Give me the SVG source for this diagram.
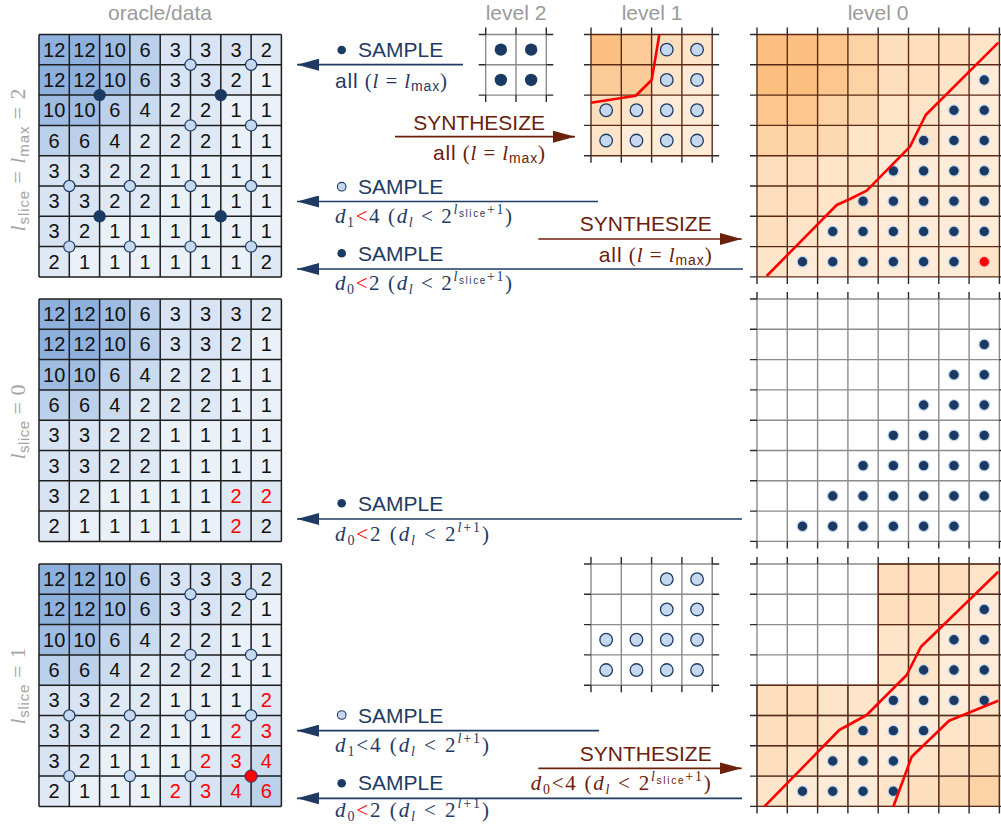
<svg xmlns="http://www.w3.org/2000/svg" xmlns:xlink="http://www.w3.org/1999/xlink" width="1001" height="829" viewBox="0 0 1001 829">
<style>
.b12{fill:#8db0dc}.b10{fill:#9ebbe1}.b6{fill:#bbd0ea}.b4{fill:#cbdbef}.b3{fill:#d8e4f3}.b2{fill:#dfe8f5}.b1{fill:#ebf1f9}
.o12{fill:#fbbf80}.o10{fill:#fcc68d}.o8{fill:#fccb97}.o6{fill:#fdd3a6}.o4{fill:#fdd9b2}.o3{fill:#fddfbe}.o2{fill:#fee4c8}.o1{fill:#feecd9}
.gk{fill:none;stroke:#1e1e1e;stroke-width:1.5}
.gb{fill:none;stroke:#5e2a14;stroke-width:1.4}
.gg{fill:none;stroke:#8c8c8c;stroke-width:1.4}
.tk{fill:none;stroke:#2a2a2a;stroke-width:1.4}
.n{font-family:"Liberation Sans",Arial,sans-serif;font-size:20px;fill:#111;text-anchor:middle}
.rd{fill:#ff0000}
.hd{font-family:"Liberation Sans",Arial,sans-serif;font-size:21px;fill:#9a9a9a;text-anchor:middle}
.sans{font-family:"Liberation Sans",Arial,sans-serif}
.ser{font-family:"Liberation Serif","Times New Roman",serif}
.it{font-style:italic}
.lab{font-family:"Liberation Sans",Arial,sans-serif;font-size:21px}
.nv{fill:#1f3b63}
.br{fill:#6b200c}
.vl{font-family:"Liberation Serif","Times New Roman",serif;font-size:22px;fill:#a3a3a3;text-anchor:middle}
.an{stroke:#1f3b63;stroke-width:1.7;fill:none}
.as{stroke:#6b200c;stroke-width:1.7;fill:none}
.red{fill:none;stroke:#ff0000;stroke-width:2.6;stroke-linejoin:round}
</style>
<defs>
<path id="g8" d="M0 0H242.4M0 30.3H242.4M0 60.6H242.4M0 90.9H242.4M0 121.2H242.4M0 151.5H242.4M0 181.8H242.4M0 212.1H242.4M0 242.4H242.4M0 0V242.4M30.3 0V242.4M60.6 0V242.4M90.9 0V242.4M121.2 0V242.4M151.5 0V242.4M181.8 0V242.4M212.1 0V242.4M242.4 0V242.4"/>
<path id="t8" d="M0 -7V0M30.3 -7V0M60.6 -7V0M90.9 -7V0M121.2 -7V0M151.5 -7V0M181.8 -7V0M212.1 -7V0M242.4 -7V0M0 242.4v7M30.3 242.4v7M60.6 242.4v7M90.9 242.4v7M121.2 242.4v7M151.5 242.4v7M181.8 242.4v7M212.1 242.4v7M242.4 242.4v7M-7 0H0M-7 30.3H0M-7 60.6H0M-7 90.9H0M-7 121.2H0M-7 151.5H0M-7 181.8H0M-7 212.1H0M-7 242.4H0M242.4 0h7M242.4 30.3h7M242.4 60.6h7M242.4 90.9h7M242.4 121.2h7M242.4 151.5h7M242.4 181.8h7M242.4 212.1h7M242.4 242.4h7"/>
<path id="g4" d="M0 0H121.2M0 30.3H121.2M0 60.6H121.2M0 90.9H121.2M0 121.2H121.2M0 0V121.2M30.3 0V121.2M60.6 0V121.2M90.9 0V121.2M121.2 0V121.2"/>
<path id="t4" d="M0 -7V0M30.3 -7V0M60.6 -7V0M90.9 -7V0M121.2 -7V0M0 121.2v7M30.3 121.2v7M60.6 121.2v7M90.9 121.2v7M121.2 121.2v7M-7 0H0M-7 30.3H0M-7 60.6H0M-7 90.9H0M-7 121.2H0M121.2 0h7M121.2 30.3h7M121.2 60.6h7M121.2 90.9h7M121.2 121.2h7"/>
<path id="g2" d="M0 0H60.6M0 30.3H60.6M0 60.6H60.6M0 0V60.6M30.3 0V60.6M60.6 0V60.6"/>
<path id="t2" d="M0 -7V0M30.3 -7V0M60.6 -7V0M0 60.6v7M30.3 60.6v7M60.6 60.6v7M-7 0H0M-7 30.3H0M-7 60.6H0M60.6 0h7M60.6 30.3h7M60.6 60.6h7"/>
<circle id="dd" r="5.3" fill="#1b3a63" stroke="#c2d6ee" stroke-width="1.2"/>
<circle id="rdd" r="5.3" fill="#ff0000" stroke="#ffc6c6" stroke-width="1.2"/>
<circle id="bd" r="6.2" fill="#1b3a63"/>
<circle id="sc" r="5.6" fill="#c5d8ef" stroke="#1b3a63" stroke-width="1.2"/>
<circle id="lc" r="6.3" fill="#c5d8ef" stroke="#1b3a63" stroke-width="1.3"/>
<marker id="mn" viewBox="0 0 22 12" refX="22" refY="6" markerWidth="22" markerHeight="12" markerUnits="userSpaceOnUse" orient="auto"><path d="M0 0L22 6L0 12z" fill="#1f3b63"/></marker>
<marker id="ms" viewBox="0 0 22 12" refX="22" refY="6" markerWidth="22" markerHeight="12" markerUnits="userSpaceOnUse" orient="auto"><path d="M0 0L22 6L0 12z" fill="#6b200c"/></marker>
</defs>
<rect width="1001" height="829" fill="#ffffff"/>

<g id="headers">
<text class="hd" x="160" y="20">oracle/data</text>
<text class="hd" x="516" y="20">level 2</text>
<text class="hd" x="652" y="20">level 1</text>
<text class="hd" x="878" y="20">level 0</text>
<text class="vl" transform="translate(25,160) rotate(-90)" textLength="143"><tspan class="it">l</tspan><tspan class="sans" font-size="15" dy="4">slice</tspan><tspan dy="-4"> = </tspan><tspan class="it">l</tspan><tspan class="sans" font-size="15" dy="4">max</tspan><tspan dy="-4"> = 2</tspan></text>
<text class="vl" transform="translate(25,422) rotate(-90)" textLength="75"><tspan class="it">l</tspan><tspan class="sans" font-size="15" dy="4">slice</tspan><tspan dy="-4"> = 0</tspan></text>
<text class="vl" transform="translate(25,686) rotate(-90)" textLength="77"><tspan class="it">l</tspan><tspan class="sans" font-size="15" dy="4">slice</tspan><tspan dy="-4"> = 1</tspan></text>
</g>

<g id="oracle-top" transform="translate(39,34.5)">
<rect class="b1" x="0" y="0" width="242.4" height="242.4"/>
<rect class="b12" x="0" y="0" width="60.6" height="30.3"/><rect class="b10" x="60.6" y="0" width="30.3" height="30.3"/><rect class="b6" x="90.9" y="0" width="30.3" height="30.3"/><rect class="b3" x="121.2" y="0" width="90.9" height="30.3"/><rect class="b2" x="212.1" y="0" width="30.3" height="30.3"/>
<rect class="b12" x="0" y="30.3" width="60.6" height="30.3"/><rect class="b10" x="60.6" y="30.3" width="30.3" height="30.3"/><rect class="b6" x="90.9" y="30.3" width="30.3" height="30.3"/><rect class="b3" x="121.2" y="30.3" width="60.6" height="30.3"/><rect class="b2" x="181.8" y="30.3" width="30.3" height="30.3"/>
<rect class="b10" x="0" y="60.6" width="60.6" height="30.3"/><rect class="b6" x="60.6" y="60.6" width="30.3" height="30.3"/><rect class="b4" x="90.9" y="60.6" width="30.3" height="30.3"/><rect class="b2" x="121.2" y="60.6" width="60.6" height="30.3"/>
<rect class="b6" x="0" y="90.9" width="60.6" height="30.3"/><rect class="b4" x="60.6" y="90.9" width="30.3" height="30.3"/><rect class="b2" x="90.9" y="90.9" width="90.9" height="30.3"/>
<rect class="b3" x="0" y="121.2" width="60.6" height="60.6"/><rect class="b2" x="60.6" y="121.2" width="60.6" height="60.6"/>
<rect class="b3" x="0" y="181.8" width="30.3" height="30.3"/><rect class="b2" x="30.3" y="181.8" width="30.3" height="30.3"/>
<rect class="b2" x="0" y="212.1" width="30.3" height="30.3"/><rect class="b2" x="212.1" y="212.1" width="30.3" height="30.3"/>
<use href="#g8" class="gk"/>
<text class="n" y="22.15"><tspan x="15.15">12</tspan><tspan x="45.45">12</tspan><tspan x="75.75">10</tspan><tspan x="106.05 136.35 166.65 196.95 227.25">63332</tspan></text>
<text class="n" y="52.45"><tspan x="15.15">12</tspan><tspan x="45.45">12</tspan><tspan x="75.75">10</tspan><tspan x="106.05 136.35 166.65 196.95 227.25">63321</tspan></text>
<text class="n" y="82.75"><tspan x="15.15">10</tspan><tspan x="45.45">10</tspan><tspan x="75.75 106.05 136.35 166.65 196.95 227.25">642211</tspan></text>
<text class="n" y="113.05" x="15.15 45.45 75.75 106.05 136.35 166.65 196.95 227.25">66422211</text>
<text class="n" y="143.35" x="15.15 45.45 75.75 106.05 136.35 166.65 196.95 227.25">33221111</text>
<text class="n" y="173.65" x="15.15 45.45 75.75 106.05 136.35 166.65 196.95 227.25">33221111</text>
<text class="n" y="203.95" x="15.15 45.45 75.75 106.05 136.35 166.65 196.95 227.25">32111111</text>
<text class="n" y="234.25" x="15.15 45.45 75.75 106.05 136.35 166.65 196.95 227.25">21111112</text>
<use href="#sc" x="151.5" y="30.3"/><use href="#sc" x="212.1" y="30.3"/>
<use href="#bd" x="60.6" y="60.6"/><use href="#bd" x="181.8" y="60.6"/>
<use href="#sc" x="151.5" y="90.9"/><use href="#sc" x="212.1" y="90.9"/>
<use href="#sc" x="30.3" y="151.5"/><use href="#sc" x="90.9" y="151.5"/><use href="#sc" x="151.5" y="151.5"/><use href="#sc" x="212.1" y="151.5"/>
<use href="#bd" x="60.6" y="181.8"/><use href="#bd" x="181.8" y="181.8"/>
<use href="#sc" x="30.3" y="212.1"/><use href="#sc" x="90.9" y="212.1"/><use href="#sc" x="151.5" y="212.1"/><use href="#sc" x="212.1" y="212.1"/>
</g>

<g id="oracle-mid" transform="translate(39,299)">
<rect class="b1" x="0" y="0" width="242.4" height="242.4"/>
<rect class="b12" x="0" y="0" width="60.6" height="30.3"/><rect class="b10" x="60.6" y="0" width="30.3" height="30.3"/><rect class="b6" x="90.9" y="0" width="30.3" height="30.3"/><rect class="b3" x="121.2" y="0" width="90.9" height="30.3"/><rect class="b2" x="212.1" y="0" width="30.3" height="30.3"/>
<rect class="b12" x="0" y="30.3" width="60.6" height="30.3"/><rect class="b10" x="60.6" y="30.3" width="30.3" height="30.3"/><rect class="b6" x="90.9" y="30.3" width="30.3" height="30.3"/><rect class="b3" x="121.2" y="30.3" width="60.6" height="30.3"/><rect class="b2" x="181.8" y="30.3" width="30.3" height="30.3"/>
<rect class="b10" x="0" y="60.6" width="60.6" height="30.3"/><rect class="b6" x="60.6" y="60.6" width="30.3" height="30.3"/><rect class="b4" x="90.9" y="60.6" width="30.3" height="30.3"/><rect class="b2" x="121.2" y="60.6" width="60.6" height="30.3"/>
<rect class="b6" x="0" y="90.9" width="60.6" height="30.3"/><rect class="b4" x="60.6" y="90.9" width="30.3" height="30.3"/><rect class="b2" x="90.9" y="90.9" width="90.9" height="30.3"/>
<rect class="b3" x="0" y="121.2" width="60.6" height="60.6"/><rect class="b2" x="60.6" y="121.2" width="60.6" height="60.6"/>
<rect class="b3" x="0" y="181.8" width="30.3" height="30.3"/><rect class="b2" x="30.3" y="181.8" width="30.3" height="30.3"/><rect class="b2" x="181.8" y="181.8" width="60.6" height="60.6"/>
<rect class="b2" x="0" y="212.1" width="30.3" height="30.3"/>
<use href="#g8" class="gk"/>
<text class="n" y="22.15"><tspan x="15.15">12</tspan><tspan x="45.45">12</tspan><tspan x="75.75">10</tspan><tspan x="106.05 136.35 166.65 196.95 227.25">63332</tspan></text>
<text class="n" y="52.45"><tspan x="15.15">12</tspan><tspan x="45.45">12</tspan><tspan x="75.75">10</tspan><tspan x="106.05 136.35 166.65 196.95 227.25">63321</tspan></text>
<text class="n" y="82.75"><tspan x="15.15">10</tspan><tspan x="45.45">10</tspan><tspan x="75.75 106.05 136.35 166.65 196.95 227.25">642211</tspan></text>
<text class="n" y="113.05" x="15.15 45.45 75.75 106.05 136.35 166.65 196.95 227.25">66422211</text>
<text class="n" y="143.35" x="15.15 45.45 75.75 106.05 136.35 166.65 196.95 227.25">33221111</text>
<text class="n" y="173.65" x="15.15 45.45 75.75 106.05 136.35 166.65 196.95 227.25">33221111</text>
<text class="n" y="203.95"><tspan x="15.15 45.45 75.75 106.05 136.35 166.65">321111</tspan><tspan class="rd" x="196.95 227.25">22</tspan></text>
<text class="n" y="234.25"><tspan x="15.15 45.45 75.75 106.05 136.35 166.65">211111</tspan><tspan class="rd" x="196.95">2</tspan><tspan x="227.25">2</tspan></text>
</g>

<g id="oracle-bot" transform="translate(39,564)">
<rect class="b1" x="0" y="0" width="242.4" height="242.4"/>
<rect class="b12" x="0" y="0" width="60.6" height="30.3"/><rect class="b10" x="60.6" y="0" width="30.3" height="30.3"/><rect class="b6" x="90.9" y="0" width="30.3" height="30.3"/><rect class="b3" x="121.2" y="0" width="90.9" height="30.3"/><rect class="b2" x="212.1" y="0" width="30.3" height="30.3"/>
<rect class="b12" x="0" y="30.3" width="60.6" height="30.3"/><rect class="b10" x="60.6" y="30.3" width="30.3" height="30.3"/><rect class="b6" x="90.9" y="30.3" width="30.3" height="30.3"/><rect class="b3" x="121.2" y="30.3" width="60.6" height="30.3"/><rect class="b2" x="181.8" y="30.3" width="30.3" height="30.3"/>
<rect class="b10" x="0" y="60.6" width="60.6" height="30.3"/><rect class="b6" x="60.6" y="60.6" width="30.3" height="30.3"/><rect class="b4" x="90.9" y="60.6" width="30.3" height="30.3"/><rect class="b2" x="121.2" y="60.6" width="60.6" height="30.3"/>
<rect class="b6" x="0" y="90.9" width="60.6" height="30.3"/><rect class="b4" x="60.6" y="90.9" width="30.3" height="30.3"/><rect class="b2" x="90.9" y="90.9" width="90.9" height="30.3"/>
<rect class="b3" x="0" y="121.2" width="60.6" height="60.6"/><rect class="b2" x="60.6" y="121.2" width="60.6" height="60.6"/><rect class="b2" x="212.1" y="121.2" width="30.3" height="30.3"/>
<rect class="b2" x="181.8" y="151.5" width="30.3" height="30.3"/><rect class="b3" x="212.1" y="151.5" width="30.3" height="30.3"/>
<rect class="b3" x="0" y="181.8" width="30.3" height="30.3"/><rect class="b2" x="30.3" y="181.8" width="30.3" height="30.3"/><rect class="b2" x="151.5" y="181.8" width="30.3" height="30.3"/><rect class="b3" x="181.8" y="181.8" width="30.3" height="30.3"/><rect class="b4" x="212.1" y="181.8" width="30.3" height="30.3"/>
<rect class="b2" x="0" y="212.1" width="30.3" height="30.3"/><rect class="b2" x="121.2" y="212.1" width="30.3" height="30.3"/><rect class="b3" x="151.5" y="212.1" width="30.3" height="30.3"/><rect class="b4" x="181.8" y="212.1" width="30.3" height="30.3"/><rect class="b6" x="212.1" y="212.1" width="30.3" height="30.3"/>
<use href="#g8" class="gk"/>
<text class="n" y="22.15"><tspan x="15.15">12</tspan><tspan x="45.45">12</tspan><tspan x="75.75">10</tspan><tspan x="106.05 136.35 166.65 196.95 227.25">63332</tspan></text>
<text class="n" y="52.45"><tspan x="15.15">12</tspan><tspan x="45.45">12</tspan><tspan x="75.75">10</tspan><tspan x="106.05 136.35 166.65 196.95 227.25">63321</tspan></text>
<text class="n" y="82.75"><tspan x="15.15">10</tspan><tspan x="45.45">10</tspan><tspan x="75.75 106.05 136.35 166.65 196.95 227.25">642211</tspan></text>
<text class="n" y="113.05" x="15.15 45.45 75.75 106.05 136.35 166.65 196.95 227.25">66422211</text>
<text class="n" y="143.35"><tspan x="15.15 45.45 75.75 106.05 136.35 166.65 196.95">3322111</tspan><tspan class="rd" x="227.25">2</tspan></text>
<text class="n" y="173.65"><tspan x="15.15 45.45 75.75 106.05 136.35 166.65">332211</tspan><tspan class="rd" x="196.95 227.25">23</tspan></text>
<text class="n" y="203.95"><tspan x="15.15 45.45 75.75 106.05 136.35">32111</tspan><tspan class="rd" x="166.65 196.95 227.25">234</tspan></text>
<text class="n" y="234.25"><tspan x="15.15 45.45 75.75 106.05">2111</tspan><tspan class="rd" x="136.35 166.65 196.95 227.25">2346</tspan></text>
<use href="#sc" x="151.5" y="30.3"/><use href="#sc" x="212.1" y="30.3"/>
<use href="#sc" x="151.5" y="90.9"/><use href="#sc" x="212.1" y="90.9"/>
<use href="#sc" x="30.3" y="151.5"/><use href="#sc" x="90.9" y="151.5"/><use href="#sc" x="151.5" y="151.5"/><use href="#sc" x="212.1" y="151.5"/>
<use href="#sc" x="30.3" y="212.1"/><use href="#sc" x="90.9" y="212.1"/><use href="#sc" x="151.5" y="212.1"/>
<circle cx="212.1" cy="212.1" r="6.2" fill="#ff0000" stroke="#1b3a63" stroke-width="1"/>
</g>

<g id="level2-top" transform="translate(485.7,34.5)">
<use href="#g2" class="gg"/>
<use href="#t2" class="tk"/>
<use href="#bd" x="15.15" y="15.15"/><use href="#bd" x="45.45" y="15.15"/>
<use href="#bd" x="15.15" y="45.45"/><use href="#bd" x="45.45" y="45.45"/>
</g>

<g id="level1-top" transform="translate(591,34.5)">
<rect class="o1" x="0" y="0" width="121.2" height="121.2"/>
<rect class="o12" x="0" y="0" width="30.3" height="30.3"/><rect class="o8" x="30.3" y="0" width="30.3" height="30.3"/><rect class="o3" x="60.6" y="0" width="30.3" height="30.3"/><rect class="o2" x="90.9" y="0" width="30.3" height="30.3"/>
<rect class="o8" x="0" y="30.3" width="60.6" height="30.3"/><rect class="o2" x="60.6" y="30.3" width="30.3" height="30.3"/>
<rect class="o3" x="0" y="60.6" width="30.3" height="30.3"/><rect class="o2" x="30.3" y="60.6" width="30.3" height="30.3"/>
<rect class="o2" x="0" y="90.9" width="30.3" height="30.3"/>
<use href="#g4" class="gb"/>
<use href="#t4" class="tk"/>
<use href="#lc" x="75.75" y="15.15"/><use href="#lc" x="106.05" y="15.15"/>
<use href="#lc" x="75.75" y="45.45"/><use href="#lc" x="106.05" y="45.45"/>
<use href="#lc" x="15.15" y="75.75"/><use href="#lc" x="45.45" y="75.75"/><use href="#lc" x="75.75" y="75.75"/><use href="#lc" x="106.05" y="75.75"/>
<use href="#lc" x="15.15" y="106.05"/><use href="#lc" x="45.45" y="106.05"/><use href="#lc" x="75.75" y="106.05"/><use href="#lc" x="106.05" y="106.05"/>
</g>
<polyline id="boundary-l1" class="red" points="659.3,34.7 651.7,80 635.7,95.7 591,102.7"/>

<g id="level1-bot" transform="translate(591,564)">
<use href="#g4" class="gg"/>
<use href="#t4" class="tk"/>
<use href="#lc" x="75.75" y="15.15"/><use href="#lc" x="106.05" y="15.15"/>
<use href="#lc" x="75.75" y="45.45"/><use href="#lc" x="106.05" y="45.45"/>
<use href="#lc" x="15.15" y="75.75"/><use href="#lc" x="45.45" y="75.75"/><use href="#lc" x="75.75" y="75.75"/><use href="#lc" x="106.05" y="75.75"/>
<use href="#lc" x="15.15" y="106.05"/><use href="#lc" x="45.45" y="106.05"/><use href="#lc" x="75.75" y="106.05"/><use href="#lc" x="106.05" y="106.05"/>
</g>

<g id="level0-top" transform="translate(757,34.5)">
<rect class="o1" x="0" y="0" width="242.4" height="242.4"/>
<rect class="o12" x="0" y="0" width="60.6" height="60.6"/><rect class="o10" x="60.6" y="0" width="30.3" height="60.6"/><rect class="o6" x="90.9" y="0" width="30.3" height="60.6"/><rect class="o3" x="121.2" y="0" width="90.9" height="30.3"/><rect class="o2" x="212.1" y="0" width="30.3" height="30.3"/>
<rect class="o3" x="121.2" y="30.3" width="60.6" height="30.3"/><rect class="o2" x="181.8" y="30.3" width="30.3" height="30.3"/>
<rect class="o10" x="0" y="60.6" width="60.6" height="30.3"/><rect class="o6" x="60.6" y="60.6" width="30.3" height="30.3"/><rect class="o4" x="90.9" y="60.6" width="30.3" height="30.3"/><rect class="o2" x="121.2" y="60.6" width="60.6" height="30.3"/>
<rect class="o6" x="0" y="90.9" width="60.6" height="30.3"/><rect class="o4" x="60.6" y="90.9" width="30.3" height="30.3"/><rect class="o2" x="90.9" y="90.9" width="90.9" height="30.3"/>
<rect class="o3" x="0" y="121.2" width="60.6" height="60.6"/><rect class="o2" x="60.6" y="121.2" width="60.6" height="60.6"/>
<rect class="o3" x="0" y="181.8" width="30.3" height="30.3"/><rect class="o2" x="30.3" y="181.8" width="30.3" height="30.3"/>
<rect class="o2" x="0" y="212.1" width="30.3" height="30.3"/><rect class="o2" x="212.1" y="212.1" width="30.3" height="30.3"/>
<use href="#g8" class="gb"/>
<use href="#t8" class="tk"/>
<use href="#dd" x="227.25" y="45.45"/>
<use href="#dd" x="196.95" y="75.75"/><use href="#dd" x="227.25" y="75.75"/>
<use href="#dd" x="166.65" y="106.05"/><use href="#dd" x="196.95" y="106.05"/><use href="#dd" x="227.25" y="106.05"/>
<use href="#dd" x="136.35" y="136.35"/><use href="#dd" x="166.65" y="136.35"/><use href="#dd" x="196.95" y="136.35"/><use href="#dd" x="227.25" y="136.35"/>
<use href="#dd" x="106.05" y="166.65"/><use href="#dd" x="136.35" y="166.65"/><use href="#dd" x="166.65" y="166.65"/><use href="#dd" x="196.95" y="166.65"/><use href="#dd" x="227.25" y="166.65"/>
<use href="#dd" x="75.75" y="196.95"/><use href="#dd" x="106.05" y="196.95"/><use href="#dd" x="136.35" y="196.95"/><use href="#dd" x="166.65" y="196.95"/><use href="#dd" x="196.95" y="196.95"/><use href="#dd" x="227.25" y="196.95"/>
<use href="#dd" x="45.45" y="227.25"/><use href="#dd" x="75.75" y="227.25"/><use href="#dd" x="106.05" y="227.25"/><use href="#dd" x="136.35" y="227.25"/><use href="#dd" x="166.65" y="227.25"/><use href="#dd" x="196.95" y="227.25"/><use href="#rdd" x="227.25" y="227.25"/>
</g>
<polyline id="boundary-l0-top" class="red" points="766.7,276 836.7,205 850,199 866.7,190.7 910,146.7 925.7,115 998.3,42.7"/>

<g id="level0-mid" transform="translate(757,299)">
<use href="#g8" class="gg"/>
<use href="#t8" class="tk"/>
<use href="#dd" x="227.25" y="45.45"/>
<use href="#dd" x="196.95" y="75.75"/><use href="#dd" x="227.25" y="75.75"/>
<use href="#dd" x="166.65" y="106.05"/><use href="#dd" x="196.95" y="106.05"/><use href="#dd" x="227.25" y="106.05"/>
<use href="#dd" x="136.35" y="136.35"/><use href="#dd" x="166.65" y="136.35"/><use href="#dd" x="196.95" y="136.35"/><use href="#dd" x="227.25" y="136.35"/>
<use href="#dd" x="106.05" y="166.65"/><use href="#dd" x="136.35" y="166.65"/><use href="#dd" x="166.65" y="166.65"/><use href="#dd" x="196.95" y="166.65"/><use href="#dd" x="227.25" y="166.65"/>
<use href="#dd" x="75.75" y="196.95"/><use href="#dd" x="106.05" y="196.95"/><use href="#dd" x="136.35" y="196.95"/><use href="#dd" x="166.65" y="196.95"/><use href="#dd" x="196.95" y="196.95"/><use href="#dd" x="227.25" y="196.95"/>
<use href="#dd" x="45.45" y="227.25"/><use href="#dd" x="75.75" y="227.25"/><use href="#dd" x="106.05" y="227.25"/><use href="#dd" x="136.35" y="227.25"/><use href="#dd" x="166.65" y="227.25"/><use href="#dd" x="196.95" y="227.25"/>
</g>

<g id="level0-bot" transform="translate(757,564)">
<rect class="o1" x="121.2" y="0" width="121.2" height="121.2"/>
<rect class="o1" x="0" y="121.2" width="242.4" height="121.2"/>
<rect class="o3" x="121.2" y="0" width="90.9" height="30.3"/><rect class="o2" x="212.1" y="0" width="30.3" height="30.3"/>
<rect class="o3" x="121.2" y="30.3" width="60.6" height="30.3"/><rect class="o2" x="181.8" y="30.3" width="30.3" height="30.3"/>
<rect class="o2" x="121.2" y="60.6" width="60.6" height="60.6"/>
<rect class="o3" x="0" y="121.2" width="60.6" height="60.6"/><rect class="o2" x="60.6" y="121.2" width="60.6" height="60.6"/><rect class="o2" x="212.1" y="121.2" width="30.3" height="30.3"/>
<rect class="o2" x="181.8" y="151.5" width="30.3" height="30.3"/><rect class="o3" x="212.1" y="151.5" width="30.3" height="30.3"/>
<rect class="o3" x="0" y="181.8" width="30.3" height="30.3"/><rect class="o2" x="30.3" y="181.8" width="30.3" height="30.3"/><rect class="o2" x="151.5" y="181.8" width="30.3" height="30.3"/><rect class="o3" x="181.8" y="181.8" width="30.3" height="30.3"/><rect class="o4" x="212.1" y="181.8" width="30.3" height="30.3"/>
<rect class="o2" x="0" y="212.1" width="30.3" height="30.3"/><rect class="o2" x="121.2" y="212.1" width="30.3" height="30.3"/><rect class="o3" x="151.5" y="212.1" width="30.3" height="30.3"/><rect class="o4" x="181.8" y="212.1" width="30.3" height="30.3"/><rect class="o6" x="212.1" y="212.1" width="30.3" height="30.3"/>
<use href="#g8" class="gg"/>
<path class="gb" d="M121.2 0H242.4M121.2 30.3H242.4M121.2 60.6H242.4M121.2 90.9H242.4M0 121.2H242.4M0 151.5H242.4M0 181.8H242.4M0 212.1H242.4M0 242.4H242.4M0 121.2V242.4M30.3 121.2V242.4M60.6 121.2V242.4M90.9 121.2V242.4M121.2 0V242.4M151.5 0V242.4M181.8 0V242.4M212.1 0V242.4M242.4 0V242.4"/>
<use href="#t8" class="tk"/>
<use href="#dd" x="227.25" y="45.45"/>
<use href="#dd" x="196.95" y="75.75"/><use href="#dd" x="227.25" y="75.75"/>
<use href="#dd" x="166.65" y="106.05"/><use href="#dd" x="196.95" y="106.05"/><use href="#dd" x="227.25" y="106.05"/>
<use href="#dd" x="136.35" y="136.35"/><use href="#dd" x="166.65" y="136.35"/><use href="#dd" x="196.95" y="136.35"/><use href="#dd" x="227.25" y="136.35"/>
<use href="#dd" x="106.05" y="166.65"/><use href="#dd" x="136.35" y="166.65"/><use href="#dd" x="166.65" y="166.65"/>
<use href="#dd" x="75.75" y="196.95"/><use href="#dd" x="106.05" y="196.95"/><use href="#dd" x="136.35" y="196.95"/>
<use href="#dd" x="45.45" y="227.25"/><use href="#dd" x="75.75" y="227.25"/><use href="#dd" x="106.05" y="227.25"/><use href="#dd" x="136.35" y="227.25"/>
</g>
<polyline id="boundary-l0-bot-a" class="red" points="764.3,806.7 839.3,730 866.7,715 906.7,675 921,646.7 998.3,571.7"/>
<polyline id="boundary-l0-bot-b" class="red" points="893.3,806.7 911.7,756.7 949,720.7 998.3,700.7"/>

<g id="connectors">
<line class="an" x1="463" y1="64.7" x2="297" y2="64.7" marker-end="url(#mn)"/>
<line class="as" x1="395" y1="136.7" x2="575" y2="136.7" marker-end="url(#ms)"/>
<line class="an" x1="598" y1="201.5" x2="297" y2="201.5" marker-end="url(#mn)"/>
<line class="as" x1="538.3" y1="239" x2="741.7" y2="239" marker-end="url(#ms)"/>
<line class="an" x1="743" y1="269" x2="297" y2="269" marker-end="url(#mn)"/>
<line class="an" x1="742" y1="519" x2="297" y2="519" marker-end="url(#mn)"/>
<line class="an" x1="599" y1="730.7" x2="297" y2="730.7" marker-end="url(#mn)"/>
<line class="as" x1="538.3" y1="768.3" x2="741.7" y2="768.3" marker-end="url(#ms)"/>
<line class="an" x1="742" y1="798.3" x2="297" y2="798.3" marker-end="url(#mn)"/>
</g>

<g id="labels">
<circle cx="341.7" cy="50" r="4.3" fill="#1b3a63"/>
<text class="lab nv" x="358" y="56.7">SAMPLE</text>
<text class="ser nv" x="335" y="88.3" font-size="21" textLength="112"><tspan class="sans">all</tspan> (<tspan class="it">l</tspan> = <tspan class="it">l</tspan><tspan class="sans" font-size="14" dy="3">max</tspan><tspan dy="-3">)</tspan></text>

<text class="lab br" x="545" y="129.5" text-anchor="end">SYNTHESIZE</text>
<text class="ser br" x="545" y="160" font-size="21" text-anchor="end" textLength="112"><tspan class="sans">all</tspan> (<tspan class="it">l</tspan> = <tspan class="it">l</tspan><tspan class="sans" font-size="14" dy="3">max</tspan><tspan dy="-3">)</tspan></text>

<circle cx="341.7" cy="186.7" r="4.3" fill="#c5d8ef" stroke="#1b3a63" stroke-width="1.1"/>
<text class="lab nv" x="358" y="194.3">SAMPLE</text>
<text class="ser nv" x="335" y="223" font-size="21" textLength="177"><tspan class="it">d</tspan><tspan font-size="14" dy="4">1</tspan><tspan class="rd" dy="-4">&lt;</tspan>4 (<tspan class="it">d</tspan><tspan class="it" font-size="14" dy="4">l</tspan><tspan dy="-4"> &lt; 2</tspan><tspan class="it" font-size="14" dy="-9">l</tspan><tspan class="sans" font-size="10" dy="3">slice</tspan><tspan font-size="14" dy="-3">+1</tspan><tspan dy="9">)</tspan></text>

<text class="lab br" x="711.7" y="231" text-anchor="end">SYNTHESIZE</text>
<text class="ser br" x="711.7" y="261.5" font-size="21" text-anchor="end" textLength="113"><tspan class="sans">all</tspan> (<tspan class="it">l</tspan> = <tspan class="it">l</tspan><tspan class="sans" font-size="14" dy="3">max</tspan><tspan dy="-3">)</tspan></text>

<circle cx="341.7" cy="253.3" r="4.3" fill="#1b3a63"/>
<text class="lab nv" x="358" y="261">SAMPLE</text>
<text class="ser nv" x="335" y="290" font-size="21" textLength="177"><tspan class="it">d</tspan><tspan font-size="14" dy="4">0</tspan><tspan class="rd" dy="-4">&lt;</tspan>2 (<tspan class="it">d</tspan><tspan class="it" font-size="14" dy="4">l</tspan><tspan dy="-4"> &lt; 2</tspan><tspan class="it" font-size="14" dy="-9">l</tspan><tspan class="sans" font-size="10" dy="3">slice</tspan><tspan font-size="14" dy="-3">+1</tspan><tspan dy="9">)</tspan></text>

<circle cx="341.7" cy="503.3" r="4.3" fill="#1b3a63"/>
<text class="lab nv" x="358" y="510.7">SAMPLE</text>
<text class="ser nv" x="335" y="541" font-size="21" textLength="154"><tspan class="it">d</tspan><tspan font-size="14" dy="4">0</tspan><tspan class="rd" dy="-4">&lt;</tspan>2 (<tspan class="it">d</tspan><tspan class="it" font-size="14" dy="4">l</tspan><tspan dy="-4"> &lt; 2</tspan><tspan class="it" font-size="14" dy="-9">l</tspan><tspan font-size="14">+1</tspan><tspan dy="9">)</tspan></text>

<circle cx="341.7" cy="715" r="4.3" fill="#c5d8ef" stroke="#1b3a63" stroke-width="1.1"/>
<text class="lab nv" x="358" y="722.7">SAMPLE</text>
<text class="ser nv" x="335" y="751.7" font-size="21" textLength="154"><tspan class="it">d</tspan><tspan font-size="14" dy="4">1</tspan><tspan dy="-4">&lt;</tspan>4 (<tspan class="it">d</tspan><tspan class="it" font-size="14" dy="4">l</tspan><tspan dy="-4"> &lt; 2</tspan><tspan class="it" font-size="14" dy="-9">l</tspan><tspan font-size="14">+1</tspan><tspan dy="9">)</tspan></text>

<text class="lab br" x="711.7" y="761" text-anchor="end">SYNTHESIZE</text>
<text class="ser br" x="710.7" y="790" font-size="21" text-anchor="end" textLength="180"><tspan class="it">d</tspan><tspan font-size="14" dy="4">0</tspan><tspan dy="-4">&lt;</tspan>4 (<tspan class="it">d</tspan><tspan class="it" font-size="14" dy="4">l</tspan><tspan dy="-4"> &lt; 2</tspan><tspan class="it" font-size="14" dy="-9">l</tspan><tspan class="sans" font-size="10" dy="3">slice</tspan><tspan font-size="14" dy="-3">+1</tspan><tspan dy="9">)</tspan></text>

<circle cx="341.7" cy="783.3" r="4.3" fill="#1b3a63"/>
<text class="lab nv" x="358" y="790">SAMPLE</text>
<text class="ser nv" x="335" y="816.7" font-size="21" textLength="154"><tspan class="it">d</tspan><tspan font-size="14" dy="4">0</tspan><tspan class="rd" dy="-4">&lt;</tspan>2 (<tspan class="it">d</tspan><tspan class="it" font-size="14" dy="4">l</tspan><tspan dy="-4"> &lt; 2</tspan><tspan class="it" font-size="14" dy="-9">l</tspan><tspan font-size="14">+1</tspan><tspan dy="9">)</tspan></text>
</g>
</svg>
